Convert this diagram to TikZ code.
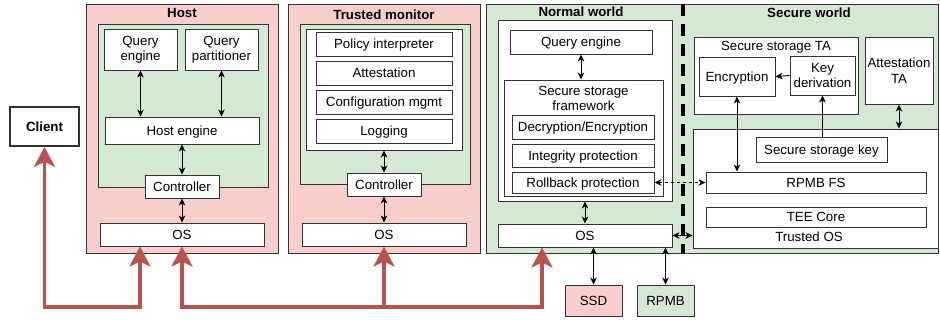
\documentclass[tikz,border=0pt]{standalone}
\usepackage{fontspec}
\setmainfont{Liberation Sans}
\usepackage{tikz}
\usetikzlibrary{arrows.meta}

\definecolor{pinkfill}{HTML}{F8CECC}
\definecolor{greenfill}{HTML}{D5E8D4}
\definecolor{redline}{HTML}{B85450}
\newcommand{\bodyfont}{\fontsize{13.3}{15.5}\selectfont}

\tikzset{
    base/.style={draw=black!80, fill=white, line width=0.9pt, inner sep=1pt, align=center, font=\bodyfont},
    blk/.style={base, text height=9.5pt, text depth=0pt},
    pinkbox/.style={blk, fill=pinkfill},
    greenbox/.style={blk, fill=greenfill},
    title/.style={font=\bodyfont\bfseries, inner sep=0pt},
    link/.style={line width=0.9pt, {Stealth[length=7pt,width=6.5pt,inset=2pt]}-{Stealth[length=7pt,width=6.5pt,inset=2pt]}},
    onelink/.style={line width=0.9pt, -{Stealth[length=7pt,width=6.5pt,inset=2pt]}},
    redarrow/.style={draw=redline, line width=3.5pt, {Stealth[length=20pt,width=21pt,inset=5pt]}-{Stealth[length=20pt,width=21pt,inset=5pt]}},
}

\begin{document}
\begin{tikzpicture}[x=1pt, y=-1pt]
\useasboundingbox (0,0) rectangle (940,320);

\node[blk, line width=1.8pt, minimum width=69, minimum height=39, font=\bodyfont\bfseries] (client) at (44.5,126.5) {Client};

\node[pinkbox, minimum width=192, minimum height=249] (host) at (182,128.5) {};
\node[title] (hosttitle) at (182,13) {Host};
\node[greenbox, minimum width=170, minimum height=163] (hostin) at (183,105.5) {};
\node[base, minimum width=73, minimum height=41] (hqe) at (140.5,49.5) {Query\\engine};
\node[base, minimum width=73, minimum height=41] (hqp) at (221.5,49.5) {Query\\partitioner};
\node[blk, minimum width=154, minimum height=27] (heng) at (182,130.5) {Host engine};
\node[blk, minimum width=74, minimum height=23] (hctrl) at (182,186.5) {Controller};
\node[blk, minimum width=164, minimum height=23] (hos) at (182,234.5) {OS};

\node[pinkbox, minimum width=192, minimum height=249] (tm) at (384,128.5) {};
\node[title] (tmtitle) at (384,15) {Trusted monitor};
\node[greenbox, minimum width=170, minimum height=160] (tmin) at (385,104) {};
\node[blk, minimum width=156, minimum height=121] (tmw) at (384,89.5) {};
\node[blk, minimum width=136, minimum height=24] (pol) at (384,44) {Policy interpreter};
\node[blk, minimum width=136, minimum height=24] (att) at (384,73) {Attestation};
\node[blk, minimum width=136, minimum height=24] (cfg) at (384,102) {Configuration mgmt};
\node[blk, minimum width=136, minimum height=24] (logg) at (384,131) {Logging};
\node[blk, minimum width=74, minimum height=23] (tctrl) at (384,184.5) {Controller};
\node[blk, minimum width=164, minimum height=23] (tos) at (384,234.5) {OS};

\node[greenbox, minimum width=452, minimum height=249] (world) at (712,128.5) {};
\draw[line width=4pt, dash pattern=on 12pt off 8pt] (683,4) -- (683,253);
\node[title] (nwtitle) at (581,12) {Normal world};
\node[title] (swtitle) at (809,13) {Secure world};

\node[blk, minimum width=174, minimum height=181] (nwc) at (585,110.5) {};
\node[blk, minimum width=142, minimum height=24] (nqe) at (581,42) {Query engine};
\node[blk, minimum width=159, minimum height=116] (ssf) at (583.5,138) {};
\node[font=\bodyfont, align=center, inner sep=0pt] (ssftitle) at (583.5,98.5) {Secure storage\\framework};
\node[blk, minimum width=142, minimum height=24] (dec) at (583,127) {Decryption/Encryption};
\node[blk, minimum width=142, minimum height=23] (integ) at (583,155.5) {Integrity protection};
\node[blk, minimum width=142, minimum height=21] (roll) at (583,182.5) {Rollback protection};
\node[blk, minimum width=174, minimum height=23] (nos) at (585,235.5) {OS};
\node[pinkbox, minimum width=57, minimum height=31] (ssd) at (593.5,300.5) {SSD};
\node[greenbox, minimum width=57, minimum height=31] (rpmb) at (665.5,300.5) {RPMB};

\node[blk, minimum width=164, minimum height=77] (sta) at (776,75.5) {};
\node[font=\bodyfont, inner sep=0pt] (statitle) at (776,47) {Secure storage TA};
\node[blk, minimum width=76, minimum height=39] (enc) at (737,76.5) {Encryption};
\node[base, minimum width=65, minimum height=39] (kder) at (822.5,75.5) {Key\\derivation};
\node[base, minimum width=68, minimum height=67] (atta) at (899,70.5) {Attestation\\TA};
\node[blk, minimum width=245, minimum height=119] (stos) at (815.5,188.5) {};
\node[font=\bodyfont, inner sep=0pt] (stostitle) at (809,237) {Trusted OS};
\node[blk, minimum width=131, minimum height=25] (ssk) at (821.5,149.5) {Secure storage key};
\node[blk, minimum width=220, minimum height=21] (rfs) at (816,182.5) {RPMB FS};
\node[blk, minimum width=220, minimum height=20] (tee) at (816,217) {TEE Core};

\draw[link] (hqe.south) -- (hqe.south |- heng.north);
\draw[link] (hqp.south) -- (hqp.south |- heng.north);
\draw[link] (heng.south) -- (hctrl.north);
\draw[link] (hctrl.south) -- (hos.north);
\draw[link] (tmw.south) -- (tctrl.north);
\draw[link] (tctrl.south) -- (tos.north);
\draw[link] (nqe.south) -- (nqe.south |- ssf.north);
\draw[link] (nwc.south) -- (nos.north);
\draw[link] (ssd.north |- nos.south) -- (ssd.north);
\draw[link] (rpmb.north |- nos.south) -- (rpmb.north);
\draw[link] (nos.east) -- (nos.east -| stos.west);
\draw[link, dash pattern=on 3pt off 3pt] (roll.east) -- (rfs.west);
\draw[onelink] (kder.west) -- (enc.east);
\draw[link] (enc.south) -- (enc.south |- rfs.north);
\draw[onelink] (kder.south |- ssk.north) -- (kder.south);
\draw[link] (atta.south) -- (atta.south |- stos.north);

\coordinate (bus) at (0,307);
\draw[redarrow] (client.south) -- (client.south |- bus) -| ([xshift=-42pt]hos.south);
\draw[redarrow] (hos.south) -- (hos.south |- bus) -| ([xshift=-43pt]nos.south);
\draw[redarrow, {Stealth[length=20pt,width=21pt,inset=5pt]}-] (tos.south) -- (tos.south |- bus);
\end{tikzpicture}
\end{document}
